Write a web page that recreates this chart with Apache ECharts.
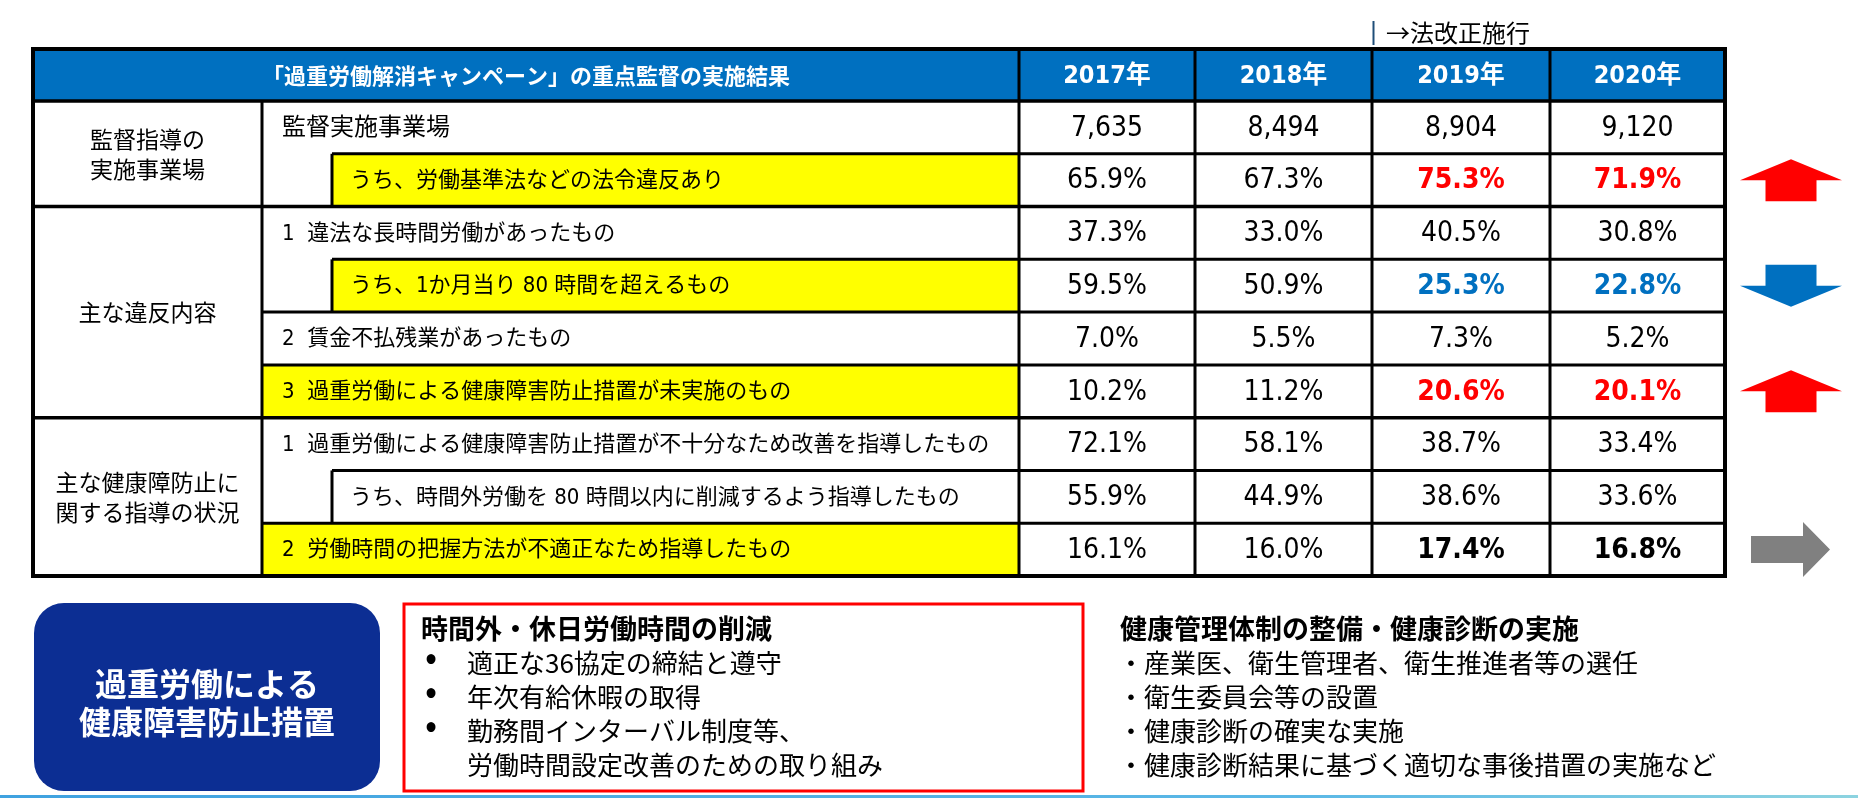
<!DOCTYPE html>
<html><head><meta charset="utf-8">
<script src="https://cdn.jsdelivr.net/npm/echarts@6/dist/echarts.min.js"></script>
<style>html,body{margin:0;padding:0;background:#fff}#c{width:1858px;height:798px}</style>
</head><body><div id="c"></div>
<script>
// ---------------- data ----------------
const headerTitle = '「過重労働解消キャンペーン」の重点監督の実施結果';
const years = ['2017年', '2018年', '2019年', '2020年'];
const groupLabels = ['監督指導の\n実施事業場', '主な違反内容', '主な健康障防止に\n関する指導の状況'];
const groupSizes = [2, 4, 3];
const itemLabels = [
  '監督実施事業場',
  'うち、労働基準法などの法令違反あり',
  '1  違法な長時間労働があったもの',
  'うち、1か月当り 80 時間を超えるもの',
  '2  賃金不払残業があったもの',
  '3  過重労働による健康障害防止措置が未実施のもの',
  '1  過重労働による健康障害防止措置が不十分なため改善を指導したもの',
  'うち、時間外労働を 80 時間以内に削減するよう指導したもの',
  '2  労働時間の把握方法が不適正なため指導したもの'
];
const v2017 = [7635, 65.9, 37.3, 59.5, 7.0, 10.2, 72.1, 55.9, 16.1];
const v2018 = [8494, 67.3, 33.0, 50.9, 5.5, 11.2, 58.1, 44.9, 16.0];
const v2019 = [8904, 75.3, 40.5, 25.3, 7.3, 20.6, 38.7, 38.6, 17.4];
const v2020 = [9120, 71.9, 30.8, 22.8, 5.2, 20.1, 33.4, 33.6, 16.8];
const trend = ['', 'up', '', 'down', '', 'up', '', '', 'flat'];
const noteLabel = '→法改正施行';
const measureTitle = '過重労働による\n健康障害防止措置';
const box1Title = '時間外・休日労働時間の削減';
const box1Items = ['適正な36協定の締結と遵守', '年次有給休暇の取得', '勤務間インターバル制度等、\n労働時間設定改善のための取り組み'];
const box2Title = '健康管理体制の整備・健康診断の実施';
const box2Items = ['産業医、衛生管理者、衛生推進者等の選任', '衛生委員会等の設置', '健康診断の確実な実施', '健康診断結果に基づく適切な事後措置の実施など'];

// ---------------- layout / style ----------------
const rowKind = ['plain', 'subYellow', 'plain', 'subYellow', 'plain', 'yellow', 'plain', 'sub', 'yellow'];
const yearValues = [v2017, v2018, v2019, v2020];
const L = 33, R = 1725, C1 = 262, CI = 332, TOP = 49, HB = 101, BOT = 576;
const colEdges = [1019, 1195, 1372, 1550, 1725];
const rowH = (BOT - HB) / itemLabels.length;
const rowY = i => HB + i * rowH;
const CJK = "'Noto Sans CJK JP'";
const NUM = "'DejaVu Sans Condensed', 'Noto Sans CJK JP'";
const BLUE = '#0070C0', RED = '#FF0000', YEL = '#FFFF00';

const g = [];
const rect = (x, y, w, h, style, r) => g.push({type: 'rect', silent: true, shape: {x, y, width: w, height: h, r: r || 0}, style});
const line = (x1, y1, x2, y2, w, c) => g.push({type: 'line', silent: true, shape: {x1, y1, x2, y2}, style: {stroke: c || '#000', lineWidth: w || 3}});
const text = (x, y, t, font, fill, align, lh) => g.push({type: 'text', silent: true, x, y, style: {text: t, font, fill: fill || '#000', align: align || 'left', verticalAlign: 'middle', lineHeight: lh}});

// header
rect(L, TOP, R - L, HB - TOP, {fill: BLUE});
text((L + colEdges[0]) / 2, (TOP + HB) / 2 + 1, headerTitle, 'bold 22px ' + CJK, '#fff', 'center');
years.forEach((y, j) => text((colEdges[j] + colEdges[j + 1]) / 2, (TOP + HB) / 2 + 1, y, 'bold 25px ' + NUM, '#fff', 'center'));

// fills
rowKind.forEach((k, i) => {
  if (k === 'subYellow') rect(CI, rowY(i), colEdges[0] - CI, rowH, {fill: YEL});
  if (k === 'yellow') rect(C1, rowY(i), colEdges[0] - C1, rowH, {fill: YEL});
});

// horizontal lines
line(L, HB, R, HB, 3.5);
let acc = 0;
const groupStarts = [];
groupSizes.forEach(n => { groupStarts.push(acc); acc += n; });
for (let i = 1; i < itemLabels.length; i++) {
  const y = rowY(i);
  if (groupStarts.indexOf(i) >= 0) line(L, y, R, y, 3.5);
  else line(rowKind[i].startsWith('sub') ? CI : C1, y, R, y, 3);
}
// vertical lines
line(C1, HB, C1, BOT, 3);
colEdges.slice(0, 4).forEach(x => line(x, TOP, x, BOT, 3));
rowKind.forEach((k, i) => { if (k.startsWith('sub')) line(CI, rowY(i), CI, rowY(i + 1), 3); });
// outer border
rect(L, TOP, R - L, BOT - TOP, {fill: 'none', stroke: '#000', lineWidth: 4});

// group labels
groupSizes.forEach((n, k) => {
  const y0 = rowY(groupStarts[k]), y1 = rowY(groupStarts[k] + n);
  text((L + C1) / 2, (y0 + y1) / 2, groupLabels[k], '23px ' + CJK, '#000', 'center', 30);
});
// item labels & values
itemLabels.forEach((t, i) => {
  const cy = rowY(i) + rowH / 2 + 1;
  const x = rowKind[i].startsWith('sub') ? CI + 18 : C1 + 20;
  text(x, cy, t, (i === 0 ? '24px ' : '22px ') + NUM, '#000', 'left');
  yearValues.forEach((vals, j) => {
    const v = vals[i];
    const s = i === 0 ? v.toLocaleString('en-US') : v.toFixed(1) + '%';
    let color = '#000', weight = '';
    if (j >= 2 && trend[i]) {
      weight = 'bold ';
      color = trend[i] === 'up' ? RED : trend[i] === 'down' ? BLUE : '#000';
    }
    text((colEdges[j] + colEdges[j + 1]) / 2, cy, s, weight + '28px ' + NUM, color, 'center');
  });
  // trend arrows
  const ax = 1791, hw = 51, sw = 25.5, ah = 42, hh = 21;
  const ty = rowY(i) + rowH / 2;
  if (trend[i] === 'up') {
    const t0 = ty - ah / 2, b0 = ty + ah / 2;
    g.push({type: 'polygon', silent: true, shape: {points: [[ax, t0], [ax + hw, t0 + hh], [ax + sw, t0 + hh], [ax + sw, b0], [ax - sw, b0], [ax - sw, t0 + hh], [ax - hw, t0 + hh]]}, style: {fill: RED}});
  } else if (trend[i] === 'down') {
    const t0 = ty - ah / 2, b0 = ty + ah / 2;
    g.push({type: 'polygon', silent: true, shape: {points: [[ax, b0], [ax + hw, b0 - hh], [ax + sw, b0 - hh], [ax + sw, t0], [ax - sw, t0], [ax - sw, b0 - hh], [ax - hw, b0 - hh]]}, style: {fill: BLUE}});
  } else if (trend[i] === 'flat') {
    const l0 = 1751, r0 = 1830, hx = 1803, h2 = 27.5, s2 = 13.5;
    g.push({type: 'polygon', silent: true, shape: {points: [[r0, ty], [hx, ty - h2], [hx, ty - s2], [l0, ty - s2], [l0, ty + s2], [hx, ty + s2], [hx, ty + h2]]}, style: {fill: '#808080'}});
  }
});

// annotation
line(colEdges[2] + 1.5, 21, colEdges[2] + 1.5, 45, 2, '#1F4E79');
text(colEdges[2] + 14, 33, noteLabel, '24px ' + CJK, '#000', 'left');

// bottom: navy rounded box
rect(34, 603, 346, 188, {fill: '#0C2E93'}, 30);
text(207, 703, measureTitle, 'bold 32px ' + CJK, '#fff', 'center', 38);

// red box
rect(404, 604, 679, 187, {fill: 'none', stroke: RED, lineWidth: 3});
text(421, 629, box1Title, 'bold 27px ' + CJK, '#000', 'left');
let ly = 663;
box1Items.forEach(item => {
  item.split('\n').forEach((ln, k) => {
    if (k === 0) text(423, ly, '•', 'bold 28px ' + NUM, '#000', 'left');
    text(467, ly, ln, '26px ' + CJK, '#000', 'left');
    ly += 34;
  });
});

// right block
text(1120, 629, box2Title, 'bold 27px ' + CJK, '#000', 'left');
box2Items.forEach((item, k) => text(1118, 663 + 34 * k, '・' + item, '26px ' + CJK, '#000', 'left'));

// bottom rule
g.push({type: 'rect', silent: true, shape: {x: 0, y: 795, width: 1858, height: 3}, style: {fill: new echarts.graphic.LinearGradient(0, 0, 1, 0, [{offset: 0, color: '#3FA2E0'}, {offset: 0.7, color: '#5BB8E6'}, {offset: 1, color: '#8CD3E0'}])}});

const chart = echarts.init(document.getElementById('c'), null, {renderer: 'canvas'});
chart.setOption({backgroundColor: '#fff', animation: false, graphic: {elements: g}});
</script>
</body></html>
